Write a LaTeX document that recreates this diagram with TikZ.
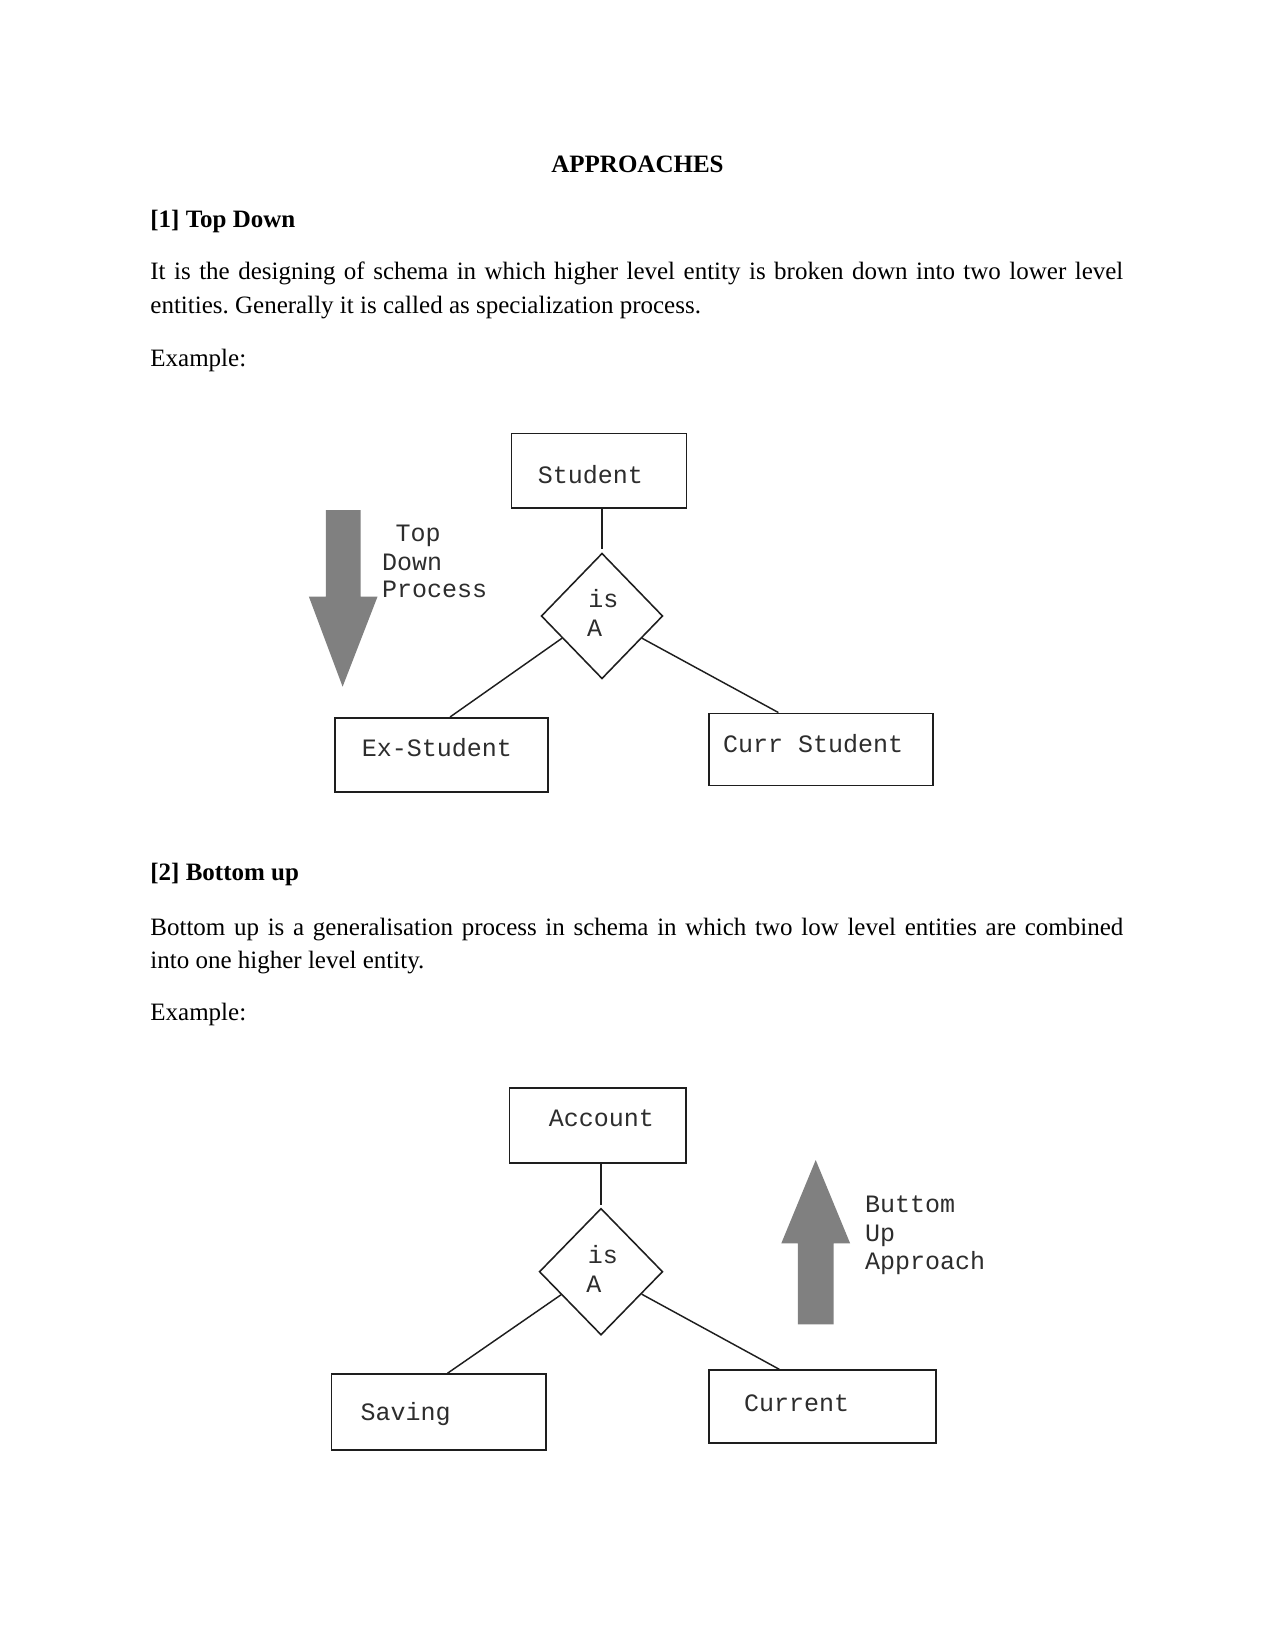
\documentclass[tikz,border=0pt]{standalone}
\usepackage{fontspec}
\setmainfont{Liberation Serif}
\newfontfamily\diagfont{Liberation Mono}
\usetikzlibrary{shapes.geometric,calc}
\definecolor{linec}{RGB}{30,30,30}
\definecolor{txtc}{RGB}{45,45,45}
\definecolor{arrowc}{RGB}{128,128,128}
\frenchspacing
\begin{document}
\begin{tikzpicture}[x=0.48pt,y=-0.48pt,
  body/.style={anchor=base west,inner sep=0pt,font=\fontsize{12}{14}\selectfont},
  head/.style={body,font=\fontsize{12}{14}\selectfont\bfseries},
  entity/.style={draw=linec,line width=0.75pt,rectangle,inner sep=0pt},
  rel/.style={draw=linec,line width=0.75pt,diamond,inner sep=0pt},
  lbl/.style={anchor=base west,inner sep=0pt,font=\diagfont\fontsize{12}{14}\selectfont,text=txtc},
  conn/.style={draw=linec,line width=0.7pt},
  bigarrow/.style={fill=arrowc}]
\useasboundingbox (0,0) rectangle (1275,1650);
\fill[white] (0,0) rectangle (1275,1650);

% ---------- text ----------
\node[head,anchor=base] (title) at (637.5,172.7) {APPROACHES};
\node[head] (h1) at (150,227.3) {[1] Top Down};
\node[body] (p1a) at (150,280) {\makebox[467pt][s]{It is the designing of schema in which higher level entity is broken down into two lower level}};
\node[body] (p1b) at (150,314) {entities. Generally it is called as specialization process.};
\node[body] (ex1) at (150,366.7) {Example:};
\node[head] (h2) at (150,880.7) {[2] Bottom up};
\node[body] (p2a) at (150,935) {\makebox[467pt][s]{Bottom up is a generalisation process in schema in which two low level entities are combined}};
\node[body] (p2b) at (150,968.3) {into one higher level entity.};
\node[body] (ex2) at (150,1020) {Example:};

% ---------- diagram 1 ----------
\node[entity,minimum width=84.05pt,minimum height=35.86pt] (student) at (599,470.7) {};
\node[rel,minimum width=58.37pt,minimum height=60.29pt] (isa1) at (602,616) {};
\node[entity,minimum width=102.24pt,minimum height=35.66pt] (exs) at (441.5,754.9) {};
\node[entity,minimum width=107.47pt,minimum height=34.56pt] (curr) at (821.2,749.3) {};

\node[lbl] (tStudent) at (537.5,483.3) {Student};
\node[lbl] (tIs1) at (588,607.3) {is};
\node[lbl] (tA1) at (586.7,636.7) {A};
\node[lbl] (tExs) at (361.5,756.7) {Ex-Student};
\node[lbl] (tCurr) at (722.7,752.3) {Curr Student};
\node[lbl] (tTop) at (395.2,541.7) {Top};
\node[lbl] (tDown) at (381.7,570) {Down};
\node[lbl] (tProc) at (381.7,597.7) {Process};

\draw[conn] (isa1.north |- student.south) -- ($(isa1.north)+(0,-3)$);
\draw[conn] ($(isa1.west)!0.35!(isa1.south)$) -- ($(exs.north west)!0.54!(exs.north east)$);
\draw[conn] ($(isa1.east)!0.35!(isa1.south)$) -- ($(curr.north west)!0.31!(curr.north east)$);

\fill[bigarrow] (325.8,510) -- (360.7,510) -- (360.7,596.7) -- (377.5,596.7) -- (342.6,686.7) -- (308.9,596.7) -- (325.8,596.7) -- cycle;

% ---------- diagram 2 ----------
\node[entity,minimum width=84.82pt,minimum height=36.14pt] (account) at (597.9,1125.4) {};
\node[rel,minimum width=59.28pt,minimum height=60.82pt] (isa2) at (601,1271.7) {};
\node[entity,minimum width=103.15pt,minimum height=36.34pt] (saving) at (438.8,1411.9) {};
\node[entity,minimum width=108.86pt,minimum height=34.9pt] (current) at (822.6,1406.4) {};

\node[lbl] (tAccount) at (548.5,1126.7) {Account};
\node[lbl] (tIs2) at (587.5,1263.3) {is};
\node[lbl] (tA2) at (586,1292.3) {A};
\node[lbl] (tSaving) at (360.2,1420) {Saving};
\node[lbl] (tCurrent) at (743.6,1411.7) {Current};
\node[lbl] (tButtom) at (864.8,1212.3) {Buttom};
\node[lbl] (tUp) at (864.8,1241) {Up};
\node[lbl] (tAppr) at (864.8,1269) {Approach};

\draw[conn] (isa2.north |- account.south) -- ($(isa2.north)+(0,-3)$);
\draw[conn] ($(isa2.west)!0.36!(isa2.south)$) -- ($(saving.north west)!0.54!(saving.north east)$);
\draw[conn] ($(isa2.east)!0.35!(isa2.south)$) -- ($(current.north west)!0.31!(current.north east)$);

\fill[bigarrow] (797.8,1324.3) -- (833.6,1324.3) -- (833.6,1243.3) -- (850.1,1243.3) -- (815.7,1160) -- (781.3,1243.3) -- (797.8,1243.3) -- cycle;
\end{tikzpicture}
\end{document}
